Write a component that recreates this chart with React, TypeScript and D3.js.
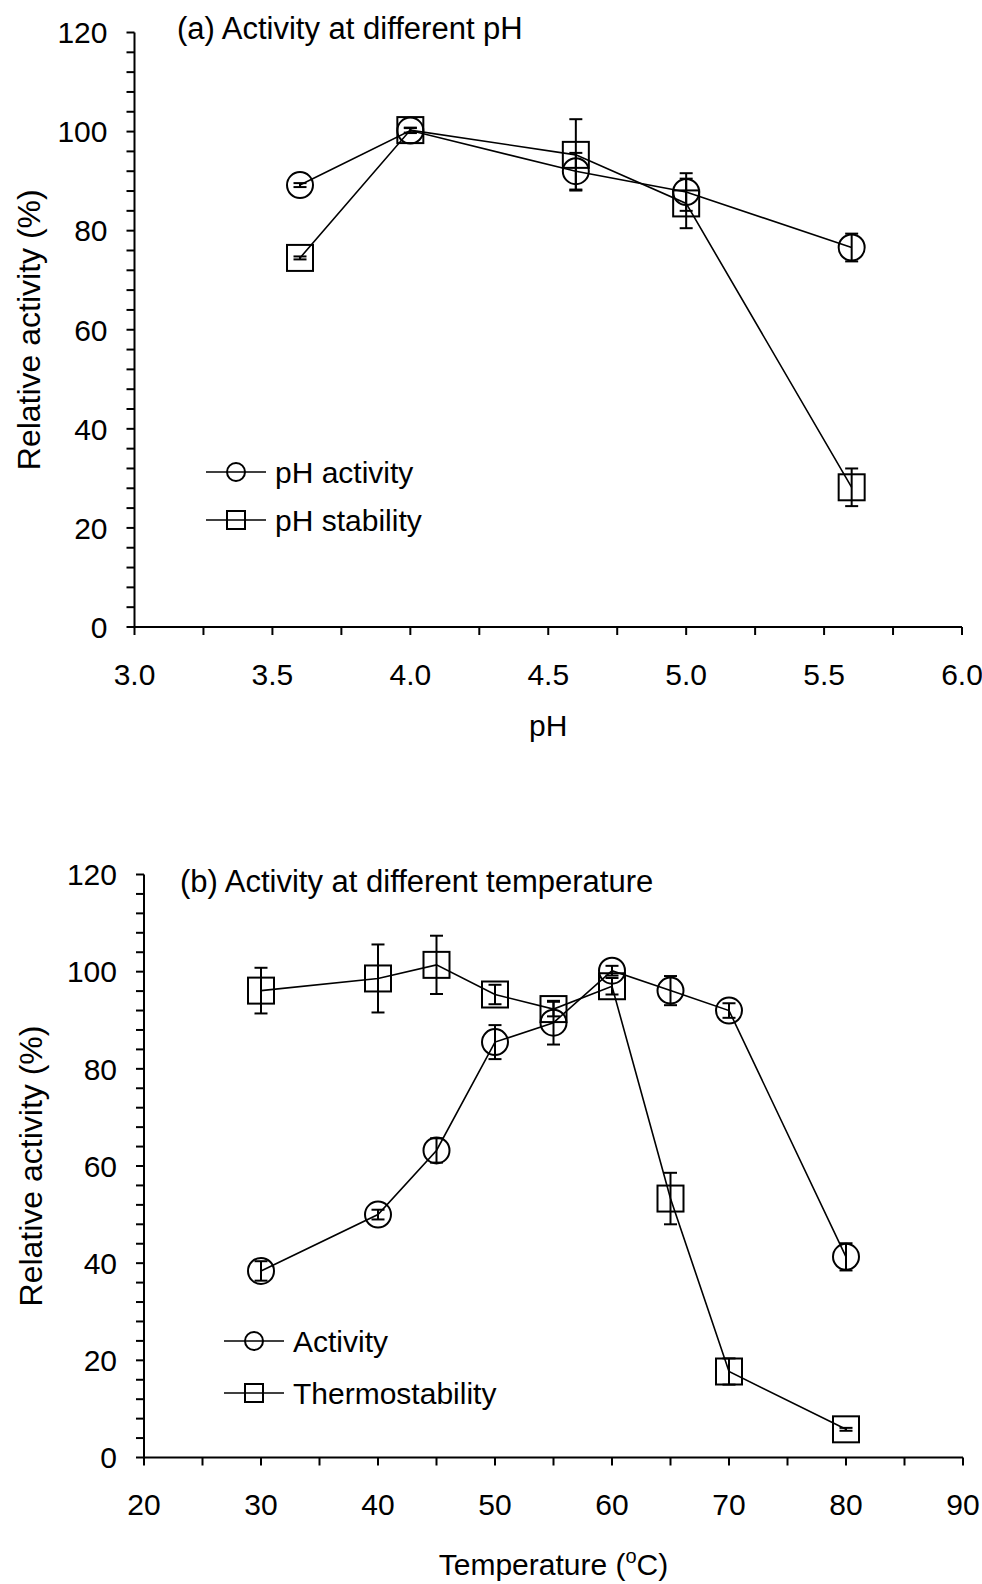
import React from "react";
import * as d3 from "d3";

// panel (a): pH
const phValues = [3.6, 4.0, 4.6, 5.0, 5.6];
const phActivity = [89.2, 100.2, 92.0, 87.8, 76.6];
const phActivityErr = [0.4, 0.5, 3.7, 3.8, 2.8];
const phStability = [74.5, 100.3, 95.3, 85.5, 28.2];
const phStabilityErr = [0.3, 0.5, 7.2, 5.0, 3.8];
const phTicks = [3.0, 3.5, 4.0, 4.5, 5.0, 5.5, 6.0];
const phMinorTicks = [3.25, 3.75, 4.25, 4.75, 5.25, 5.75];

// panel (b): temperature
const temps = [30, 40, 45, 50, 55, 60, 65, 70, 80];
const tempActivity = [38.4, 50.0, 63.2, 85.5, 89.5, 100.2, 96.1, 92.0, 41.3];
const tempActivityErr = [2.0, 1.0, 2.5, 3.5, 4.5, 1.0, 3.0, 1.5, 2.8];
const thermo = [96.1, 98.6, 101.4, 95.3, 92.3, 97.0, 53.3, 17.7, 5.8];
const thermoErr = [4.7, 7.0, 6.0, 2.0, 1.5, 1.7, 5.3, 2.7, 0.3];
const tempTicks = [20, 30, 40, 50, 60, 70, 80, 90];
const tempMinorTicks = [25, 35, 45, 55, 65, 75, 85];

const yTicks = [0, 20, 40, 60, 80, 100, 120];
const yMinorTicks = d3.range(0, 120, 4).filter((v) => v % 20 !== 0);

const FONT = "'Liberation Sans', Arial, sans-serif";
const FS = 30;

const Marker = ({ shape, cx, cy, r }) =>
  shape === "circle" ? (
    <circle cx={cx} cy={cy} r={r} fill="none" stroke="#000" strokeWidth={2} />
  ) : (
    <rect x={cx - r} y={cy - r} width={2 * r} height={2 * r} fill="none" stroke="#000" strokeWidth={2} />
  );

const Panel = (props) => {
  const { xDomain, xRange, yRange, xTicks, xMinor, fmt, series, title, titleX, titleY, xLabel, xLabelY, yLabelX, legend } = props;
  const x = d3.scaleLinear().domain(xDomain).range(xRange);
  const y = d3.scaleLinear().domain([0, 120]).range(yRange);
  const line = d3.line<any>().x((d) => x(d[0])).y((d) => y(d[1]));
  const x0 = x(xDomain[0]);
  const y0 = y(0);

  return (
    <g fontFamily={FONT} fontSize={FS} fill="#000">
      {/* series */}
      {series.map((s, si) => {
        const pts = s.xs.map((v, i) => [v, s.ys[i]]);
        return (
          <g key={si}>
            <path d={line(pts)} fill="none" stroke="#000" strokeWidth={1.6} />
            {pts.map((p, i) => {
              const cx = x(p[0]);
              const top = y(p[1] + s.err[i]);
              const bot = y(p[1] - s.err[i]);
              return (
                <g key={i}>
                  <line x1={cx} x2={cx} y1={top} y2={bot} stroke="#000" strokeWidth={2} />
                  <line x1={cx - 6.5} x2={cx + 6.5} y1={top} y2={top} stroke="#000" strokeWidth={2} />
                  <line x1={cx - 6.5} x2={cx + 6.5} y1={bot} y2={bot} stroke="#000" strokeWidth={2} />
                  <Marker shape={s.shape} cx={cx} cy={y(p[1])} r={13} />
                </g>
              );
            })}
          </g>
        );
      })}

      {/* y axis */}
      <line x1={x0} x2={x0} y1={y(0)} y2={y(120)} stroke="#000" strokeWidth={2} />
      {yTicks.map((t) => (
        <g key={t}>
          <line x1={x0 - 8} x2={x0} y1={y(t)} y2={y(t)} stroke="#000" strokeWidth={2} />
          <text x={x0 - 27} y={y(t)} dy="0.36em" textAnchor="end">{t}</text>
        </g>
      ))}
      {yMinorTicks.map((t) => (
        <line key={t} x1={x0 - 8} x2={x0} y1={y(t)} y2={y(t)} stroke="#000" strokeWidth={2} />
      ))}

      {/* x axis */}
      <line x1={x0} x2={x(xDomain[1])} y1={y0} y2={y0} stroke="#000" strokeWidth={2} />
      {xTicks.map((t) => (
        <g key={t}>
          <line x1={x(t)} x2={x(t)} y1={y0} y2={y0 + 8} stroke="#000" strokeWidth={2} />
          <text x={x(t)} y={y0 + 47} dy="0.36em" textAnchor="middle">{fmt(t)}</text>
        </g>
      ))}
      {xMinor.map((t) => (
        <line key={t} x1={x(t)} x2={x(t)} y1={y0} y2={y0 + 8} stroke="#000" strokeWidth={2} />
      ))}

      {/* labels */}
      <text x={titleX} y={titleY} dy="0.36em" fontSize={31}>{title}</text>
      <text x={(x0 + x(xDomain[1])) / 2} y={xLabelY} dy="0.36em" textAnchor="middle">{xLabel}</text>
      <text
        transform={`translate(${yLabelX},${(y(0) + y(120)) / 2}) rotate(-90)`}
        dy="0.36em"
        textAnchor="middle"
        fontSize={32}
      >
        Relative activity (%)
      </text>

      {/* legend */}
      {legend.items.map((it, i) => {
        const ly = legend.y + i * legend.gap;
        return (
          <g key={i}>
            <line x1={legend.x} x2={legend.x + 60} y1={ly} y2={ly} stroke="#000" strokeWidth={1.6} />
            <Marker shape={it.shape} cx={legend.x + 30} cy={ly} r={9} />
            <text x={legend.x + 69} y={ly} dy="0.36em">{it.label}</text>
          </g>
        );
      })}
    </g>
  );
};

export default function App() {
  return (
    <svg width={982} height={1584} style={{ position: "absolute", left: 0, top: 0, background: "#fff" }}>
      <rect width={982} height={1584} fill="#fff" />
      <Panel
        xDomain={[3, 6]}
        xRange={[134.5, 962]}
        yRange={[627, 32.5]}
        xTicks={phTicks}
        xMinor={phMinorTicks}
        fmt={d3.format(".1f")}
        series={[
          { xs: phValues, ys: phActivity, err: phActivityErr, shape: "circle" },
          { xs: phValues, ys: phStability, err: phStabilityErr, shape: "square" },
        ]}
        title="(a) Activity at different pH"
        titleX={177}
        titleY={28}
        xLabel="pH"
        xLabelY={725}
        yLabelX={28}
        legend={{
          x: 206,
          y: 472,
          gap: 48,
          items: [
            { shape: "circle", label: "pH activity" },
            { shape: "square", label: "pH stability" },
          ],
        }}
      />
      <Panel
        xDomain={[20, 90]}
        xRange={[144, 963]}
        yRange={[1457.5, 874.5]}
        xTicks={tempTicks}
        xMinor={tempMinorTicks}
        fmt={d3.format("d")}
        series={[
          { xs: temps, ys: tempActivity, err: tempActivityErr, shape: "circle" },
          { xs: temps, ys: thermo, err: thermoErr, shape: "square" },
        ]}
        title="(b) Activity at different temperature"
        titleX={180}
        titleY={881}
        xLabel={
          <>
            Temperature (<tspan fontSize={20} dy="-12">o</tspan>
            <tspan dy="12">C)</tspan>
          </>
        }
        xLabelY={1564}
        yLabelX={30}
        legend={{
          x: 224,
          y: 1341,
          gap: 52,
          items: [
            { shape: "circle", label: "Activity" },
            { shape: "square", label: "Thermostability" },
          ],
        }}
      />
    </svg>
  );
}
